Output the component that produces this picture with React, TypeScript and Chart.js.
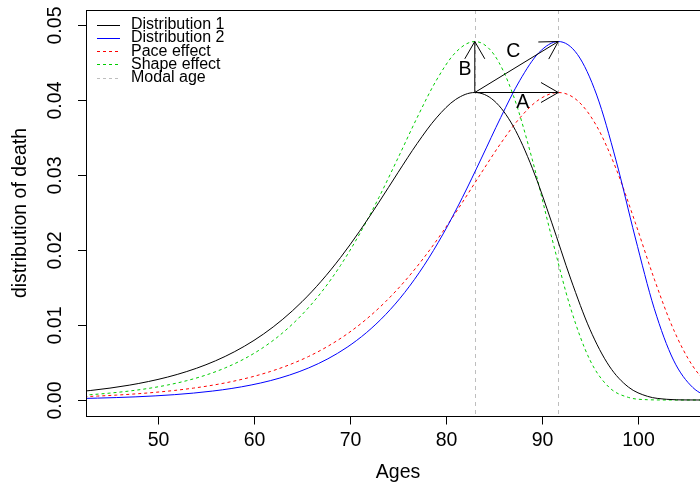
import React, { useEffect, useRef } from "react";
import { Chart, registerables } from "chart.js";

Chart.register(...registerables);

// Ages for curves whose modal age is 83
const agesMode83 = [33, 35, 37, 39, 41, 43, 45, 47, 49, 51, 53, 55, 57, 59, 61, 63, 65, 67, 69, 71, 73, 75, 77, 79, 81, 83, 85, 87, 89, 91, 93, 95, 97, 99, 101, 103, 105, 107];
// Ages for curves whose modal age is 91.7
const agesMode917 = [41.7, 43.7, 45.7, 47.7, 49.7, 51.7, 53.7, 55.7, 57.7, 59.7, 61.7, 63.7, 65.7, 67.7, 69.7, 71.7, 73.7, 75.7, 77.7, 79.7, 81.7, 83.7, 85.7, 87.7, 89.7, 91.7, 93.7, 95.7, 97.7, 99.7, 101.7, 103.7, 105.7, 107.7, 109.7, 111.7, 113.7, 115.7];

const distribution1 = [0.000422, 0.000527, 0.000658, 0.000821, 0.001024, 0.001276, 0.00159, 0.00198, 0.002464, 0.003061, 0.003799, 0.004706, 0.005816, 0.00717, 0.008807, 0.010772, 0.013105, 0.015836, 0.018976, 0.022504, 0.026337, 0.030325, 0.034209, 0.037618, 0.040064, 0.041, 0.039916, 0.036512, 0.030895, 0.023716, 0.01612, 0.009411, 0.004543, 0.00173, 0.000489, 0.000096, 0.000012, 0.000001];
const distribution2 = [0.000196, 0.000254, 0.000329, 0.000426, 0.000552, 0.000715, 0.000925, 0.001197, 0.001548, 0.002001, 0.002583, 0.003329, 0.004283, 0.005498, 0.007036, 0.008971, 0.011379, 0.014339, 0.017918, 0.022142, 0.026978, 0.032262, 0.037667, 0.042631, 0.04634, 0.047798, 0.046067, 0.040657, 0.032008, 0.021734, 0.012177, 0.005318, 0.001683, 0.00035, 0.000042, 0.000003, 0, 0];
const paceEffect = [0.000422, 0.000527, 0.000658, 0.000821, 0.001024, 0.001276, 0.00159, 0.00198, 0.002464, 0.003061, 0.003799, 0.004706, 0.005816, 0.00717, 0.008807, 0.010772, 0.013105, 0.015836, 0.018976, 0.022504, 0.026337, 0.030325, 0.034209, 0.037618, 0.040064, 0.041, 0.039916, 0.036512, 0.030895, 0.023716, 0.01612, 0.009411, 0.004543, 0.00173, 0.000489, 0.000096, 0.000012, 0.000001];
const shapeEffect = [0.000196, 0.000254, 0.000329, 0.000426, 0.000552, 0.000715, 0.000925, 0.001197, 0.001548, 0.002001, 0.002583, 0.003329, 0.004283, 0.005498, 0.007036, 0.008971, 0.011379, 0.014339, 0.017918, 0.022142, 0.026978, 0.032262, 0.037667, 0.042631, 0.04634, 0.047798, 0.046067, 0.040657, 0.032008, 0.021734, 0.012177, 0.005318, 0.001683, 0.00035, 0.000042, 0.000003, 0, 0];

const modalAges = [83, 91.7];
const peak1 = 0.041;
const peak2 = 0.0478;

const xTicks = [50, 60, 70, 80, 90, 100];
const xTickLabels = ["50", "60", "70", "80", "90", "100"];
const yTicks = [0, 0.01, 0.02, 0.03, 0.04, 0.05];
const yTickLabels = ["0.00", "0.01", "0.02", "0.03", "0.04", "0.05"];

const legendLabels = ["Distribution 1", "Distribution 2", "Pace effect", "Shape effect", "Modal age"];
const legendColors = ["#000000", "#0000ff", "#ff0000", "#00cd00", "#bebebe"];
const legendDashed = [false, false, true, true, true];

const arrowLabels = [
  { text: "B", x: 81.98, y: 0.0441 },
  { text: "C", x: 87.0, y: 0.0464 },
  { text: "A", x: 88.0, y: 0.0396 },
];

const FONT = '"Liberation Sans", Arial, Helvetica, sans-serif';

function zip(xs: number[], ys: number[]) {
  return xs.map((x, i) => ({ x, y: ys[i] }));
}

const decorPlugin = {
  id: "decor",
  beforeDatasetsDraw(chart: any) {
    const { ctx, chartArea, scales } = chart;
    ctx.save();
    ctx.strokeStyle = "#bebebe";
    ctx.lineWidth = 1;
    ctx.setLineDash([4, 4]);
    modalAges.forEach((m) => {
      const px = Math.round(scales.x.getPixelForValue(m)) + 0.5;
      ctx.beginPath();
      ctx.moveTo(px, chartArea.top);
      ctx.lineTo(px, chartArea.bottom);
      ctx.stroke();
    });
    ctx.restore();
  },
  afterDatasetsDraw(chart: any) {
    const { ctx, chartArea, scales } = chart;
    const xs = scales.x;
    const ys = scales.y;
    const left = chartArea.left;
    const top = chartArea.top;
    const bottom = chartArea.bottom;
    ctx.save();
    ctx.setLineDash([]);
    ctx.strokeStyle = "#000";
    ctx.fillStyle = "#000";
    ctx.lineWidth = 1;
    // box
    ctx.strokeRect(left + 0.5, top + 0.5, 700, bottom - top);
    // x ticks
    ctx.font = `19.5px ${FONT}`;
    ctx.textAlign = "center";
    ctx.textBaseline = "middle";
    xTicks.forEach((v, i) => {
      const px = Math.round(xs.getPixelForValue(v)) + 0.5;
      ctx.beginPath();
      ctx.moveTo(px, bottom + 0.5);
      ctx.lineTo(px, bottom + 8.5);
      ctx.stroke();
      ctx.fillText(xTickLabels[i], px, 441);
    });
    // y ticks
    yTicks.forEach((v, i) => {
      const py = Math.round(ys.getPixelForValue(v)) + 0.5;
      ctx.beginPath();
      ctx.moveTo(left - 8, py);
      ctx.lineTo(left + 0.5, py);
      ctx.stroke();
      ctx.save();
      ctx.translate(56, py);
      ctx.rotate(-Math.PI / 2);
      ctx.fillText(yTickLabels[i], 0, 0);
      ctx.restore();
    });
    // axis titles
    ctx.fillText("Ages", 398, 473);
    ctx.save();
    ctx.translate(21, 213);
    ctx.rotate(-Math.PI / 2);
    ctx.fillText("distribution of death", 0, 0);
    ctx.restore();

    // arrows
    const arrow = (x0: number, y0: number, x1: number, y1: number) => {
      const p0x = xs.getPixelForValue(x0);
      const p0y = ys.getPixelForValue(y0);
      const p1x = xs.getPixelForValue(x1);
      const p1y = ys.getPixelForValue(y1);
      const ang = Math.atan2(p1y - p0y, p1x - p0x);
      const len = 20;
      const a = Math.PI / 6;
      ctx.beginPath();
      ctx.moveTo(p0x, p0y);
      ctx.lineTo(p1x, p1y);
      ctx.moveTo(p1x - len * Math.cos(ang - a), p1y - len * Math.sin(ang - a));
      ctx.lineTo(p1x, p1y);
      ctx.lineTo(p1x - len * Math.cos(ang + a), p1y - len * Math.sin(ang + a));
      ctx.stroke();
    };
    arrow(modalAges[0], peak1, modalAges[0], peak2);
    arrow(modalAges[0], peak1, modalAges[1], peak1);
    arrow(modalAges[0], peak1, modalAges[1], peak2);
    arrowLabels.forEach((l) => {
      ctx.fillText(l.text, xs.getPixelForValue(l.x), ys.getPixelForValue(l.y));
    });

    // legend
    ctx.font = `16px ${FONT}`;
    ctx.textAlign = "left";
    legendLabels.forEach((lab, i) => {
      const y = 24.5 + i * 13.3;
      ctx.strokeStyle = legendColors[i];
      ctx.setLineDash(legendDashed[i] ? [3, 3] : []);
      ctx.beginPath();
      ctx.moveTo(97, Math.round(y) + 0.5);
      ctx.lineTo(120, Math.round(y) + 0.5);
      ctx.stroke();
      ctx.fillStyle = "#000";
      ctx.fillText(lab, 131, y);
    });
    ctx.restore();
  },
};

export default function App() {
  const ref = useRef<HTMLCanvasElement>(null);
  useEffect(() => {
    if (!ref.current) return;
    const ds = (data: { x: number; y: number }[], color: string, dashed: boolean) => ({
      data,
      borderColor: color,
      backgroundColor: color,
      borderWidth: 1,
      borderDash: dashed ? [3, 3] : [],
      pointRadius: 0,
      fill: false,
      cubicInterpolationMode: "monotone" as const,
    });
    const chart = new Chart(ref.current, {
      type: "line",
      data: {
        datasets: [
          ds(zip(agesMode83, distribution1), "#000000", false),
          ds(zip(agesMode917, distribution2), "#0000ff", false),
          ds(zip(agesMode917, paceEffect), "#ff0000", true),
          ds(zip(agesMode83, shapeEffect), "#00cd00", true),
        ],
      },
      options: {
        animation: false,
        responsive: false,
        devicePixelRatio: 1,
        layout: { padding: { left: 86, top: 10, right: 0, bottom: 68 } },
        plugins: { legend: { display: false }, tooltip: { enabled: false } },
        scales: {
          x: { type: "linear", min: 42.5, max: 106.46, display: false },
          y: { type: "linear", min: -0.00213, max: 0.052, display: false },
        },
      },
      plugins: [decorPlugin],
    } as any);
    return () => chart.destroy();
  }, []);
  return (
    <div style={{ position: "absolute", left: 0, top: 0, width: 700, height: 484, background: "#fff" }}>
      <canvas ref={ref} width={700} height={484} style={{ display: "block", width: 700, height: 484 }} />
    </div>
  );
}
